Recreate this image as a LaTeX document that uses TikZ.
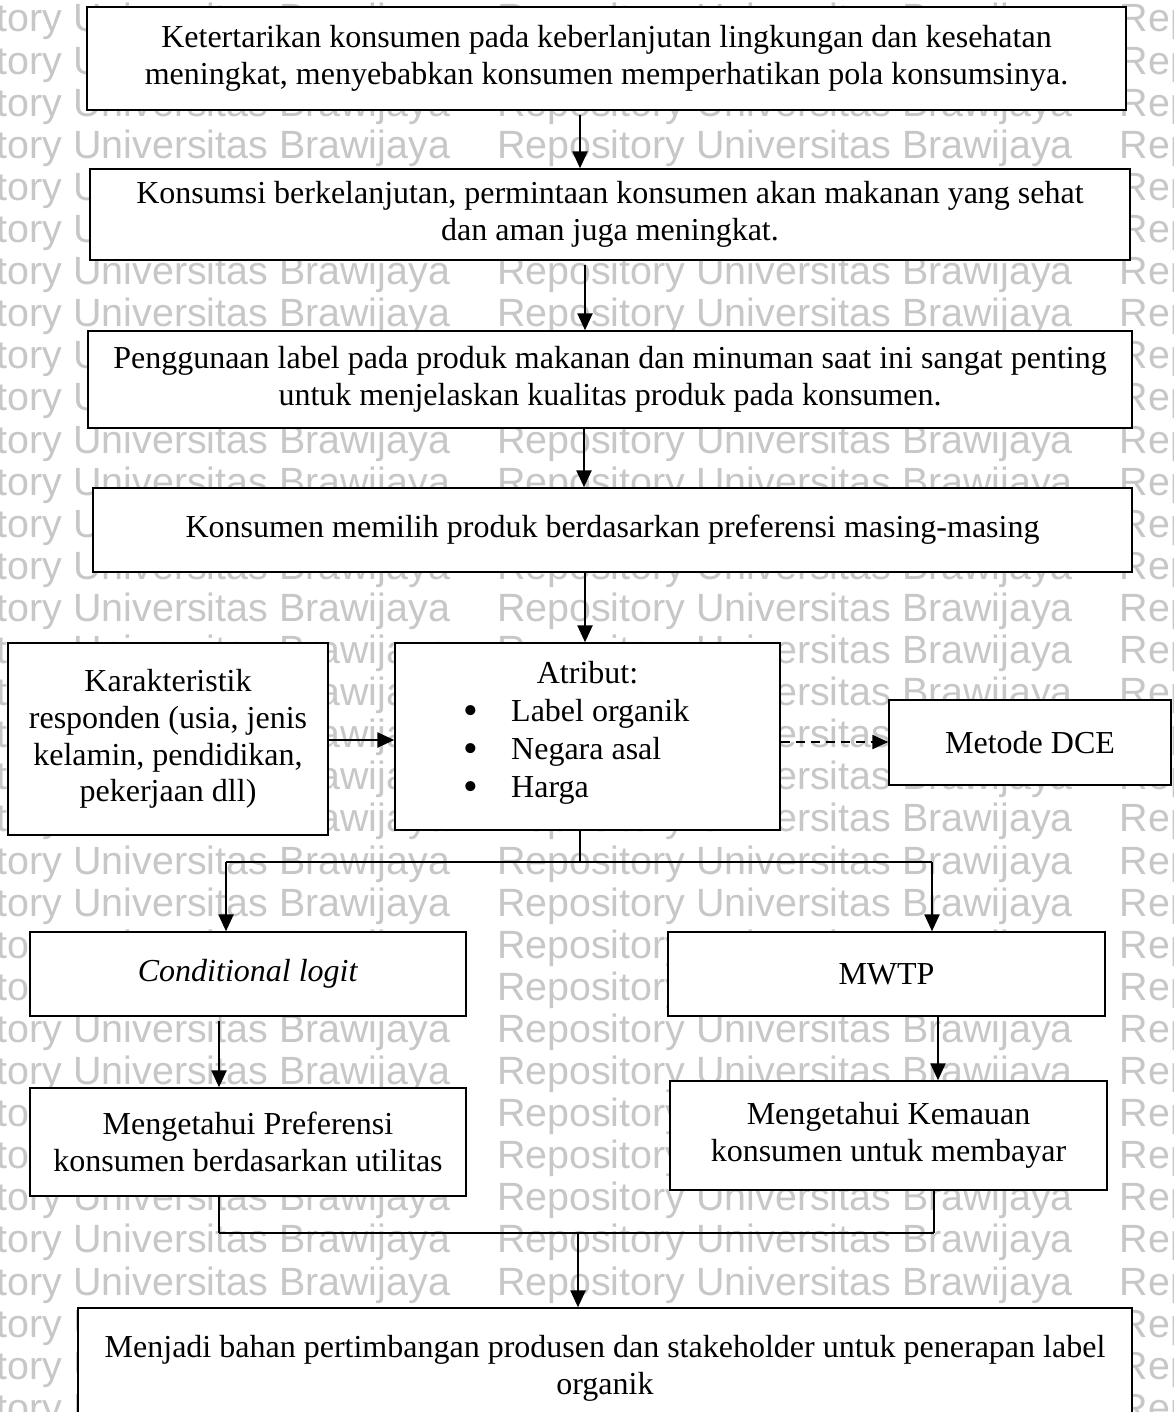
\documentclass[tikz,border=0pt]{standalone}
\usepackage{fontspec}
\setmainfont{Liberation Serif}
\newfontfamily\wmfont{Liberation Sans}
\usetikzlibrary{arrows.meta}
\begin{document}
\begin{tikzpicture}[x=1pt,y=-1pt,
  box/.style={draw=black, line width=1.4pt, fill=white, inner sep=0pt, align=center,
    font=\fontsize{32pt}{36.8pt}\selectfont},
  txt/.style={inner sep=0pt, font=\fontsize{32pt}{36.8pt}\selectfont},
  bul/.style={inner sep=0pt, font=\fontsize{42pt}{44pt}\selectfont},
  arr/.style={line width=2.4pt, -{Triangle[width=15pt,length=17pt]}},
  darr/.style={line width=2.2pt, dash pattern=on 9pt off 6pt, -{Triangle[width=14pt,length=16pt]}},
  link/.style={line width=2.4pt},
  stem/.style={line width=1.4pt},
  wm/.style={inner sep=0pt, anchor=base west, text=black!22,
    font=\wmfont\fontsize{39.4pt}{40pt}\selectfont}]
\useasboundingbox (0,0) rectangle (1173,1412);
\clip (0,0) rectangle (1173,1412);
\fill[white] (0,0) rectangle (1173,1412);
% watermark
\foreach \k in {0,...,33} {
  \node[wm] (wm\k) at (-126,32+42.1*\k) {\makebox[623pt][l]{Repository Universitas Brawijaya}\makebox[623pt][l]{Repository Universitas Brawijaya}Repository};
}
% boxes
\node[box, minimum width=1039pt, minimum height=103pt] (b1) at (606.5,58.5)
  {Ketertarikan konsumen pada keberlanjutan lingkungan dan kesehatan\\meningkat, menyebabkan konsumen memperhatikan pola konsumsinya.};
\node[box, minimum width=1040pt, minimum height=91pt] (b2) at (610,214.5)
  {Konsumsi berkelanjutan, permintaan konsumen akan makanan yang sehat\\dan aman juga meningkat.};
\node[box, minimum width=1044pt, minimum height=97pt] (b3) at (610,379.5)
  {Penggunaan label pada produk makanan dan minuman saat ini sangat penting\\untuk menjelaskan kualitas produk pada konsumen.};
\node[box, minimum width=1039pt, minimum height=84pt] (b4) at (612.5,530)
  {Konsumen memilih produk berdasarkan preferensi masing-masing};
\node[box, minimum width=320pt, minimum height=192pt] (kar) at (168,739)
  {Karakteristik\\responden (usia, jenis\\kelamin, pendidikan,\\pekerjaan dll)};
\node[box, minimum width=385pt, minimum height=187pt] (atr) at (587.5,736.5) {};
\node[txt, anchor=base] (atrh) at (587.5,683) {Atribut:};
\node[bul] (bu1) at (471,715) {\textbullet};
\node[bul] (bu2) at (471,753) {\textbullet};
\node[bul] (bu3) at (471,791) {\textbullet};
\node[txt, anchor=base west] (at1) at (511,721) {Label organik};
\node[txt, anchor=base west] (at2) at (511,759) {Negara asal};
\node[txt, anchor=base west] (at3) at (511,797) {Harga};
\node[box, minimum width=282pt, minimum height=85pt] (dce) at (1030,742.5) {Metode DCE};
\node[box, minimum width=436pt, minimum height=84pt] (cond) at (248,974) {\textit{Conditional logit}};
\node[box, minimum width=437pt, minimum height=84pt] (mwtp) at (886.5,974) {MWTP};
\node[box, minimum width=436pt, minimum height=108pt] (pref) at (248,1142)
  {Mengetahui Preferensi\\konsumen berdasarkan utilitas};
\node[box, minimum width=437pt, minimum height=109pt] (kem) at (888.5,1135.5)
  {Mengetahui Kemauan\\konsumen untuk membayar};
\node[box, minimum width=1054pt, minimum height=120pt] (last) at (605,1368)
  {Menjadi bahan pertimbangan produsen dan stakeholder untuk penerapan label\\organik};
% helper coordinates
\coordinate (x1) at (580,0);
\coordinate (x2) at (585,0);
\coordinate (x3) at (584,0);
\coordinate (x4) at (585,0);
\coordinate (ka) at (0,740);
\coordinate (da) at (0,742);
\coordinate (j1) at (580,862);
\coordinate (jl) at (226,862);
\coordinate (jr) at (932,862);
\coordinate (xl) at (219,0);
\coordinate (xr) at (938,0);
\coordinate (k1) at (219,1233);
\coordinate (k2) at (934,1233);
\coordinate (k3) at (578,1233);
% connectors
\draw[arr, shorten <=4pt] (b1.south -| x1) -- (b2.north -| x1);
\draw[arr, shorten <=4pt] (b2.south -| x2) -- (b3.north -| x2);
\draw[arr] (b3.south -| x3) -- (b4.north -| x3);
\draw[arr] (b4.south -| x4) -- (atr.north -| x4);
\draw[arr] (kar.east |- ka) -- (atr.west |- ka);
\draw[darr] (atr.east |- da) -- (dce.west |- da);
\draw[stem] (atr.south -| j1) -- (j1);
\draw[link] (jl) -- (jr);
\draw[arr] (jl) -- (cond.north -| jl);
\draw[arr] (jr) -- (mwtp.north -| jr);
\draw[arr, shorten <=4pt] (cond.south -| xl) -- (pref.north -| xl);
\draw[arr] (mwtp.south -| xr) -- (kem.north -| xr);
\draw[stem] (pref.south -| k1) -- (k1);
\draw[link] (k1) -- (k2);
\draw[link] (k2) -- (kem.south -| k2);
\draw[arr] (k3) -- (last.north -| k3);
\end{tikzpicture}
\end{document}
